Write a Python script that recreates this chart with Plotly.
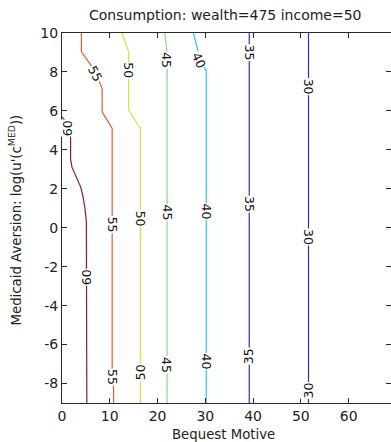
import plotly.graph_objects as go

# Contour levels of consumption over (bequest motive, Medicaid aversion)
LEVELS = [60, 55, 50, 45, 40, 35, 30]

# Iso-consumption paths: bequest motive (x) and log Medicaid aversion (y)
PATH_X_60 = [5.2, 5.2, 5.1, 4.8, 4.4, 3.9, 3.0, 2.1, 1.8, 1.8, 1.3, 0.6, 0.0]
PATH_Y_60 = [-9.0, -0.3, 0.3, 1.0, 1.6, 2.1, 2.6, 3.1, 3.5, 4.6, 5.1, 5.5, 5.7]

PATH_X_55 = [10.8, 10.8, 10.5, 10.5, 8.4, 8.4, 7.7, 6.3, 4.06, 4.06]
PATH_Y_55 = [-9.0, -8.3, -7.5, 5.1, 5.95, 7.15, 7.57, 8.26, 9.03, 10.0]

PATH_X_50 = [16.4, 16.4, 13.95, 13.95, 12.56]
PATH_Y_50 = [-9.0, 5.1, 6.03, 9.03, 10.0]

PATH_X_45 = [22.0, 22.0, 21.5]
PATH_Y_45 = [-9.0, 9.03, 10.0]

PATH_X_40 = [30.2, 30.2, 29.0, 28.2, 27.5]
PATH_Y_40 = [-9.0, 8.05, 8.6, 9.35, 10.0]

PATH_X_35 = [39.2, 39.2]
PATH_Y_35 = [-9.0, 10.0]

PATH_X_30 = [51.6, 51.6]
PATH_Y_30 = [-9.0, 10.0]

PATHS = {
    60: (PATH_X_60, PATH_Y_60),
    55: (PATH_X_55, PATH_Y_55),
    50: (PATH_X_50, PATH_Y_50),
    45: (PATH_X_45, PATH_Y_45),
    40: (PATH_X_40, PATH_Y_40),
    35: (PATH_X_35, PATH_Y_35),
    30: (PATH_X_30, PATH_Y_30),
}

# Inline contour labels (level, anchor point on the line)
LABEL_LEVEL = [60, 60, 55, 55, 55, 50, 50, 50, 45, 45, 45,
               40, 40, 40, 35, 35, 35, 30, 30, 30]
LABEL_X = [1.2, 5.2, 6.9, 10.5, 10.6, 13.95, 16.4, 16.4, 22.0, 22.0, 22.0,
           28.7, 30.2, 30.2, 39.2, 39.2, 39.2, 51.6, 51.6, 51.6]
LABEL_Y = [5.1, -2.55, 7.9, 0.15, -7.65, 8.1, 0.45, -7.4, 8.6, 0.78, -7.05,
           8.6, 0.82, -6.88, 8.98, 1.2, -6.58, 7.27, -0.45, -8.38]
LABEL_ANGLE = [-90, -90, 62, 90, 90, 90, 90, -90, 90, 90, 90,
               65, 90, 90, 90, 90, -90, 90, 90, -90]

X_TICKS = [0, 10, 20, 30, 40, 50, 60]
Y_TICKS = [-8, -6, -4, -2, 0, 2, 4, 6, 8, 10]
Y_TICK_TEXT = ["-8", "-6", "-4", "-2", "0", "2", "4", "6", "8", "10"]

# jet-style colours per level
COLORS = {
    60: "#8a1a3c",
    55: "#dc5f3a",
    50: "#ecd83a",
    45: "#88dd88",
    40: "#33c4ec",
    35: "#2a36b0",
    30: "#33338f",
}

FONT = "DejaVu Sans"
INK = "#222222"
AXIS = "#2a2a2a"

fig = go.Figure()

for lvl in LEVELS:
    xs, ys = PATHS[lvl]
    fig.add_trace(go.Scatter(
        x=xs, y=ys, mode="lines",
        line=dict(color=COLORS[lvl], width=1.2),
        hoverinfo="skip", showlegend=False,
    ))

# carrier for the right-hand tick marks
fig.add_trace(go.Scatter(x=[], y=[], yaxis="y2", showlegend=False, hoverinfo="skip"))

annotations = []
for lvl, lx, ly, ang in zip(LABEL_LEVEL, LABEL_X, LABEL_Y, LABEL_ANGLE):
    annotations.append(dict(
        x=lx, y=ly, xref="x", yref="y", text=str(lvl), showarrow=False,
        textangle=ang, font=dict(family=FONT, size=12.5, color="#111111"),
        bgcolor="white", borderpad=0, xanchor="center", yanchor="middle",
    ))

annotations += [
    dict(text="Consumption: wealth=475 income=50", xref="paper", yref="paper",
         x=0.4964, y=1.0473, xanchor="center", yanchor="middle", showarrow=False,
         font=dict(family=FONT, size=14, color=INK)),
    dict(text="Bequest Motive", xref="paper", yref="paper",
         x=0.491, y=-0.0851, xanchor="center", yanchor="middle", showarrow=False,
         font=dict(family=FONT, size=13.3, color=INK)),
    dict(text="Medicaid Aversion: log(u'(c<sup>MED</sup>))", xref="paper", yref="paper",
         x=-0.1429, y=0.4959, xanchor="center", yanchor="middle", showarrow=False,
         textangle=-90, font=dict(family=FONT, size=13.3, color=INK)),
]

fig.update_layout(
    width=391, height=442,
    margin=dict(l=62, r=0, t=33, b=39),
    paper_bgcolor="white", plot_bgcolor="white",
    font=dict(family=FONT, size=14, color=INK),
    showlegend=False,
    annotations=annotations,
    xaxis=dict(
        range=[0, 68.87], tickvals=X_TICKS, ticks="inside", ticklen=5,
        tickcolor=AXIS, showline=True, linecolor=AXIS, linewidth=1,
        mirror="ticks", showgrid=False, zeroline=False,
        tickfont=dict(family=FONT, size=14, color=INK),
    ),
    yaxis=dict(
        range=[-9, 10], tickvals=Y_TICKS, ticktext=Y_TICK_TEXT,
        ticks="inside", ticklen=5, tickcolor=AXIS, showline=True,
        linecolor=AXIS, linewidth=1, mirror=False, showgrid=False,
        zeroline=False, tickfont=dict(family=FONT, size=14, color=INK),
    ),
    yaxis2=dict(
        range=[-9, 10], tickvals=Y_TICKS, overlaying="y", side="right",
        ticks="inside", ticklen=5, tickcolor=AXIS, showline=False,
        showticklabels=False, showgrid=False, zeroline=False,
    ),
)

fig.write_html("out.html")
